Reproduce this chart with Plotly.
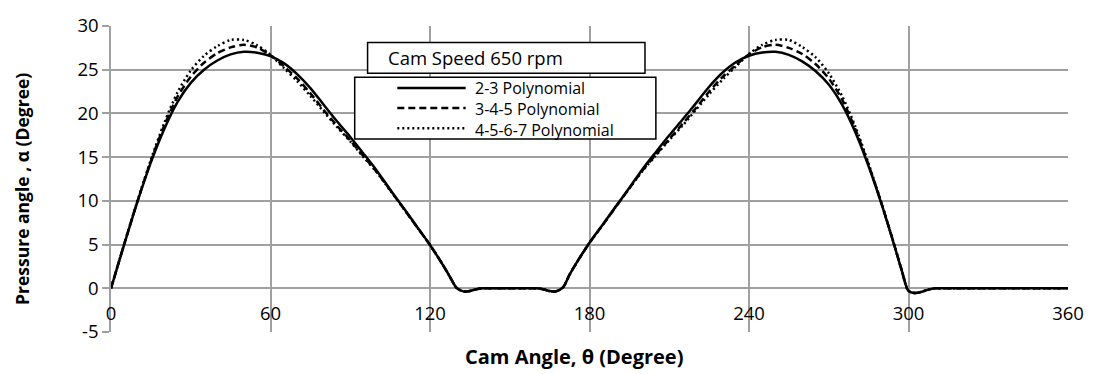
import plotly.graph_objects as go

# ---------------- data ----------------
theta = [0, 5, 10, 15, 20, 25, 30, 35, 40, 45, 50, 55, 60, 65, 70, 75, 80, 85, 90, 95, 100, 105, 110, 115, 120, 125,
         127.5, 130, 132.5, 135, 137.5, 140,
         145, 150, 155, 160,
         162.5, 165, 167.5, 170, 172.5, 175,
         180, 185, 190, 195, 200, 205, 210, 215, 220, 225, 230, 235, 240, 245, 250, 255, 260, 265, 270, 275, 280, 285, 290, 295,
         297.5, 300, 302.5, 305, 307.5, 310,
         315, 320, 325, 330, 335, 340, 345, 350, 355, 360]

poly_23 = [0, 5.05, 9.95, 14.4, 18.2, 21.3, 23.5, 25.0, 26.05, 26.75, 27.05, 26.95, 26.55, 25.75, 24.5, 22.9, 21.0, 19.1, 17.3, 15.4, 13.45, 11.3, 9.2, 7.1, 4.95, 2.6,
           1.3, 0.05, -0.35, -0.3, -0.1, 0,
           0, 0, 0, 0,
           -0.1, -0.32, -0.33, 0.1, 1.55, 2.85,
           5.2, 7.3, 9.4, 11.5, 13.65, 15.6, 17.5, 19.3, 21.15, 23.05, 24.65, 25.85, 26.6, 26.97, 27.05, 26.7, 25.95, 24.85, 23.3, 21.0, 17.85, 13.95, 9.5, 4.55,
           2.0, -0.3, -0.55, -0.4, -0.15, 0,
           0, 0, 0, 0, 0, 0, 0, 0, 0, 0]

poly_345 = [0, 5.1, 10.0, 14.55, 18.6, 21.9, 24.2, 25.8, 26.9, 27.55, 27.85, 27.55, 26.65, 25.4, 24.0, 22.3, 20.4, 18.6, 16.9, 15.1, 13.3, 11.25, 9.15, 7.05, 4.95, 2.6,
            1.3, 0.05, -0.35, -0.3, -0.1, 0,
            0, 0, 0, 0,
            -0.1, -0.32, -0.33, 0.1, 1.55, 2.85,
            5.2, 7.25, 9.35, 11.45, 13.5, 15.3, 17.05, 18.8, 20.6, 22.5, 24.15, 25.5, 26.75, 27.58, 27.85, 27.5, 26.8, 25.65, 24.0, 21.6, 18.2, 14.1, 9.55, 4.6,
            2.0, -0.3, -0.55, -0.4, -0.15, 0,
            0, 0, 0, 0, 0, 0, 0, 0, 0, 0]

poly_4567 = [0, 5.1, 10.05, 14.7, 18.9, 22.4, 24.9, 26.6, 27.7, 28.4, 28.4, 27.8, 26.7, 25.2, 23.7, 22.0, 20.2, 18.45, 16.8, 15.0, 13.25, 11.2, 9.15, 7.05, 4.95, 2.6,
             1.3, 0.05, -0.35, -0.3, -0.1, 0,
             0, 0, 0, 0,
             -0.1, -0.32, -0.33, 0.1, 1.55, 2.85,
             5.2, 7.25, 9.35, 11.4, 13.45, 15.2, 16.95, 18.6, 20.4, 22.2, 23.85, 25.35, 26.8, 27.85, 28.4, 28.4, 27.6, 26.45, 24.6, 22.0, 18.5, 14.25, 9.6, 4.6,
             2.0, -0.3, -0.55, -0.4, -0.15, 0,
             0, 0, 0, 0, 0, 0, 0, 0, 0, 0]

series_names = ["2-3 Polynomial", "3-4-5 Polynomial", "4-5-6-7 Polynomial"]
x_ticks = [0, 60, 120, 180, 240, 300, 360]
x_tick_labels = ["0", "60", "120", "180", "240", "300", "360"]
y_ticks = [-5, 0, 5, 10, 15, 20, 25, 30]
y_tick_labels = ["-5", "0", "5", "10", "15", "20", "25", "30"]
chart_title = "Cam Speed 650 rpm"
x_title = "Cam Angle, θ (Degree)"
y_title = "Pressure angle , α (Degree)"

# ---------------- style ----------------
FONT = "Open Sans"
GRID = "#a0a0a0"
W, H = 1096, 374
ML, MR, MT, MB = 111, 19, 15, 42
LEG_FS = 16


def px(x):
    return (x - ML) / (W - ML - MR)


def py(y):
    return (H - MB - y) / (H - MT - MB)


dashes = ["solid", "7px,4px", "2px,3px"]
series = [poly_23, poly_345, poly_4567]

fig = go.Figure()
for name, vals, dash in reversed(list(zip(series_names, series, dashes))):
    fig.add_trace(go.Scatter(
        x=theta, y=vals, name=name, mode="lines",
        line=dict(color="black", width=2.5, dash=dash, shape="spline", smoothing=0.8),
        showlegend=False))

shapes = []
annotations = []

# title box
shapes.append(dict(type="rect", xref="paper", yref="paper",
                   x0=px(370), x1=px(650), y0=py(64), y1=py(32),
                   line=dict(color="black", width=1.5), fillcolor="white", layer="above"))
annotations.append(dict(xref="paper", yref="paper", x=px(389), y=py(48), text=chart_title,
                        showarrow=False, xanchor="left", yanchor="middle",
                        font=dict(family=FONT, size=18.5, color="black")))

# legend box
shapes.append(dict(type="rect", xref="paper", yref="paper",
                   x0=px(357), x1=px(661), y0=py(132), y1=py(68),
                   line=dict(color="black", width=1.5), fillcolor="white", layer="above"))
leg_mid = 100
step = 1.3 * LEG_FS
for i, dash in enumerate(dashes):
    yy = leg_mid + (i - 1) * step
    shapes.append(dict(type="line", xref="paper", yref="paper",
                       x0=px(400), x1=px(469), y0=py(yy), y1=py(yy),
                       line=dict(color="black", width=2.5, dash=dash), layer="above"))
annotations.append(dict(xref="paper", yref="paper", x=px(476), y=py(leg_mid + 0.5),
                        text="<br>".join(series_names), align="left",
                        showarrow=False, xanchor="left", yanchor="middle",
                        font=dict(family=FONT, size=LEG_FS, color="black")))

# axis titles
annotations.append(dict(xref="paper", yref="paper", x=px(578), y=py(357), text="<b>" + x_title + "</b>",
                        showarrow=False, xanchor="center", yanchor="middle",
                        font=dict(family=FONT, size=20, color="black")))
annotations.append(dict(xref="paper", yref="paper", x=px(21), y=py(184), text="<b>" + y_title + "</b>",
                        showarrow=False, xanchor="center", yanchor="middle", textangle=-90,
                        font=dict(family=FONT, size=17.5, color="black")))

fig.update_layout(
    width=W, height=H,
    margin=dict(l=ML, r=MR, t=MT, b=MB),
    paper_bgcolor="white", plot_bgcolor="white",
    showlegend=False,
    shapes=shapes, annotations=annotations,
    font=dict(family=FONT, size=18, color="black"),
    xaxis=dict(range=[0, 360], tickmode="array", tickvals=x_ticks, ticktext=x_tick_labels,
               showgrid=True, gridcolor=GRID, gridwidth=1.5, zeroline=False, showline=False,
               anchor="free", position=5 / 35, ticks="", ticklabelstandoff=12,
               tickfont=dict(family=FONT, size=18.5, color="black")),
    yaxis=dict(range=[-5, 30], tickmode="array", tickvals=y_ticks, ticktext=y_tick_labels,
               showgrid=True, gridcolor=GRID, gridwidth=1.5,
               zeroline=True, zerolinecolor=GRID, zerolinewidth=1.5,
               showline=True, linecolor=GRID, linewidth=1.5,
               ticks="outside", ticklen=7, tickcolor=GRID, tickwidth=1.5,
               tickfont=dict(family=FONT, size=18.5, color="black")),
)

fig.write_html("out.html")
